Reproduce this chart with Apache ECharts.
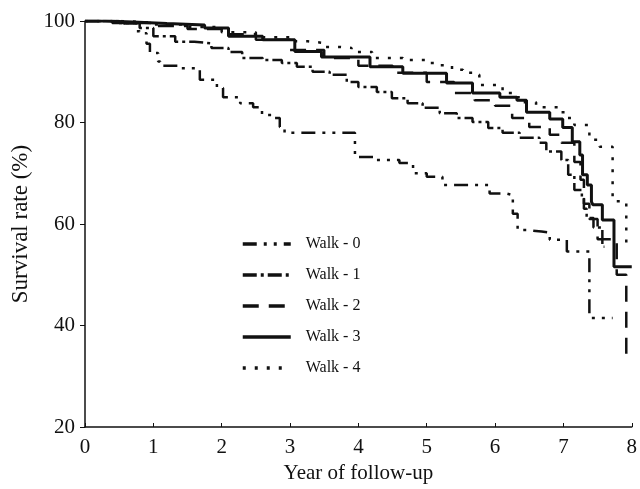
<!DOCTYPE html>
<html>
<head>
<meta charset="utf-8">
<script src="https://cdn.jsdelivr.net/npm/echarts@6/dist/echarts.min.js"></script>
<style>
  html, body { margin: 0; padding: 0; background: #fff; }
  #chart { width: 640px; height: 489px; }
</style>
</head>
<body>
<div id="chart"></div>
<script>
// Kaplan-Meier curves, [year, survival %]
const walk0 = [[0,100],[0.5,99.5],[0.75,98],[0.8,97.6],[0.9,95.5],[0.95,93.7],[1.07,92],[1.1,91.2],[1.39,90.7],[1.68,88.4],[1.93,86.8],[2.02,85],[2.27,83.8],[2.46,83],[2.59,81.5],[2.75,80.9],[2.85,79.1],[2.92,78],[3.95,73.2],[4.27,72.6],[4.6,72],[4.8,70],[5.0,69.3],[5.23,67.7],[5.92,66],[6.17,65.7],[6.26,62],[6.33,58.8],[6.48,58.5],[6.68,58.3],[6.8,56.9],[7.05,54.6],[7.38,41.5],[7.72,41.5]];
const walk1 = [[0,100],[0.4,99.6],[0.8,98.6],[1.0,97],[1.32,95.9],[1.6,95.6],[1.85,94.7],[2.1,93.9],[2.3,92.7],[2.6,92.3],[2.88,91.7],[3.1,91],[3.33,90],[3.58,89.4],[3.83,88],[4.0,87],[4.27,86],[4.49,84.8],[4.72,83.8],[4.94,82.9],[5.19,81.8],[5.44,80.9],[5.67,80.1],[5.9,78.9],[6.11,78],[6.36,77],[6.65,76],[6.75,74.3],[6.97,72.6],[7.07,69.7],[7.16,66.7],[7.27,65],[7.3,63],[7.34,61.2],[7.44,59.3],[7.57,55.5],[7.6,55.5]];
const walk2 = [[0,100],[0.5,99.6],[1,99],[1.5,98.4],[2,97.4],[2.5,96.3],[3,94.3],[3.5,92.7],[4,91.2],[4.5,89.8],[5,88],[5.4,85.8],[5.7,84.4],[6.0,83.3],[6.25,80.9],[6.5,79.1],[6.8,77.6],[6.97,76],[7.16,72.2],[7.25,68.7],[7.3,64],[7.38,61],[7.5,57],[7.78,50],[7.92,33],[7.95,33]];
const walk3 = [[0,100],[0.3,99.8],[0.7,99.5],[1.2,99.2],[1.75,98.6],[2.1,97],[2.6,96.3],[3.07,94],[3.46,92.9],[4.17,91],[4.65,89.7],[5.29,87.8],[5.67,85.8],[6.07,85],[6.32,84.4],[6.46,82],[6.8,80.7],[6.99,79],[7.13,76.2],[7.24,73.6],[7.28,69.7],[7.35,67.7],[7.41,64.4],[7.43,63.8],[7.57,60.8],[7.74,51.6],[8.0,51.6]];
const walk4 = [[0,100],[0.5,99.7],[1,99.3],[1.5,98.8],[2,97.8],[2.5,96.8],[3,96],[3.26,95.7],[3.48,94.9],[3.73,94.7],[3.9,93.9],[4.2,92.7],[4.65,92.3],[5.0,91.7],[5.19,91.3],[5.37,90.4],[5.53,89.8],[5.7,89.4],[5.77,87.4],[6.11,85.8],[6.26,85],[6.4,84],[6.6,83],[6.94,82],[7.05,80.9],[7.16,79.5],[7.38,76.6],[7.53,75.2],[7.72,64.5],[7.92,55.9],[8.0,55.9]];

const names = ['Walk - 0', 'Walk - 1', 'Walk - 2', 'Walk - 3', 'Walk - 4'];
const curves = [walk0, walk1, walk2, walk3, walk4];
const dashes = [[14, 7, 3, 7, 3, 7], [14, 4, 3, 4], [16, 10], 'solid', [3, 9]];

const serif = 'Liberation Serif';
const ink = '#111';

const chart = echarts.init(document.getElementById('chart'));

const series = curves.map(function (d, i) {
    return {
        name: names[i],
        type: 'line',
        step: 'end',
        data: d,
        showSymbol: false,
        symbol: 'none',
        animation: false,
        lineStyle: {
            color: ink,
            width: i === 3 ? 3 : 2.5,
            type: dashes[i]
        },
        itemStyle: { color: ink }
    };
});

chart.setOption({
    backgroundColor: '#fff',
    animation: false,
    grid: { left: 85, right: 8, top: 21, bottom: 62 },
    legend: {
        orient: 'vertical',
        left: 236,
        top: 231,
        itemWidth: 48,
        itemHeight: 14,
        itemGap: 15,
        data: names,
        itemStyle: { opacity: 0 },
        lineStyle: { width: 3.5 },
        textStyle: { fontFamily: serif, fontSize: 16, color: ink, padding: [0, 0, 0, 10] }
    },
    xAxis: {
        type: 'value',
        min: 0,
        max: 8,
        interval: 1,
        name: 'Year of follow-up',
        nameLocation: 'middle',
        nameGap: 34,
        nameTextStyle: { fontFamily: serif, fontSize: 21, color: ink },
        axisLine: { onZero: false, lineStyle: { color: ink, width: 1.5 } },
        axisTick: { inside: true, length: 4, lineStyle: { color: ink } },
        axisLabel: { fontFamily: serif, fontSize: 21, color: ink, margin: 10 },
        splitLine: { show: false }
    },
    yAxis: {
        type: 'value',
        min: 20,
        max: 100,
        interval: 20,
        name: 'Survival rate (%)',
        nameLocation: 'middle',
        nameGap: 53,
        nameTextStyle: { fontFamily: serif, fontSize: 23, color: ink },
        axisLine: { show: true, onZero: false, lineStyle: { color: ink, width: 1.5 } },
        axisTick: { show: true, length: 5, lineStyle: { color: ink } },
        axisLabel: { fontFamily: serif, fontSize: 21, color: ink, margin: 10 },
        splitLine: { show: false }
    },
    series: series
});
</script>
</body>
</html>
